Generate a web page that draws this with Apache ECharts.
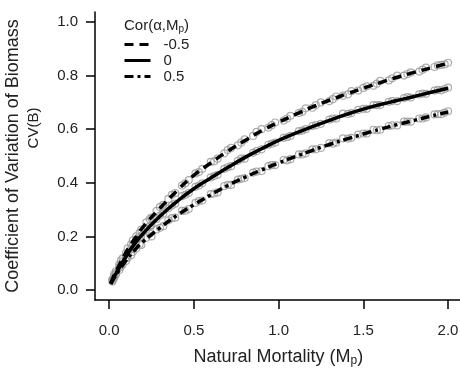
<!DOCTYPE html>
<html>
<head>
<meta charset="utf-8">
<script src="https://cdn.jsdelivr.net/npm/echarts@6.0.0/dist/echarts.min.js"></script>
<style>
  html, body { margin: 0; padding: 0; background: #fff; }
  #chart { width: 460px; height: 371px; }
</style>
</head>
<body>
<div id="chart"></div>
<script>
// 坐标轴刻度
const xTicks = [0, 0.5, 1.0, 1.5, 2.0];
const yTicks = [0, 0.2, 0.4, 0.6, 0.8, 1.0];

// 图例名称 Cor(α,Mp)
const seriesNames = ["-0.5", "0", "0.5"];

// 拟合曲线的 x
const lineX = [0.01, 0.03, 0.05, 0.1, 0.15, 0.2, 0.3, 0.4, 0.5, 0.6, 0.7, 0.8, 0.9, 1.0,
  1.1, 1.2, 1.3, 1.4, 1.5, 1.6, 1.7, 1.8, 1.9, 2.0];

// 三条曲线的 y
const lineNeg = [0.025, 0.055, 0.08, 0.14, 0.19, 0.235, 0.305, 0.37, 0.428, 0.474, 0.518, 0.557,
  0.594, 0.626, 0.655, 0.683, 0.708, 0.731, 0.753, 0.774, 0.794, 0.812, 0.829, 0.846];
const lineZero = [0.025, 0.05, 0.072, 0.125, 0.172, 0.21, 0.275, 0.33, 0.378, 0.418, 0.457, 0.494,
  0.527, 0.558, 0.585, 0.61, 0.633, 0.655, 0.675, 0.692, 0.707, 0.722, 0.738, 0.753];
const linePos = [0.022, 0.045, 0.065, 0.11, 0.148, 0.18, 0.232, 0.278, 0.318, 0.355, 0.39, 0.42,
  0.448, 0.474, 0.498, 0.521, 0.543, 0.563, 0.582, 0.6, 0.617, 0.633, 0.649, 0.664];

// 模拟点 [x, y]
const pointsNeg = [[0.02,0.04],[0.04,0.07],[0.06,0.095],[0.08,0.118],[0.11,0.155],[0.13,0.17],[0.16,0.2],
  [0.19,0.225],[0.22,0.252],[0.25,0.27],[0.28,0.295],[0.32,0.318],[0.35,0.34],[0.39,0.362],[0.43,0.39],
  [0.47,0.41],[0.51,0.435],[0.55,0.452],[0.6,0.478],[0.64,0.49],[0.68,0.51],[0.72,0.53],[0.76,0.54],
  [0.8,0.562],[0.85,0.575],[0.9,0.6],[0.94,0.606],[0.98,0.625],[1.03,0.632],[1.07,0.65],[1.12,0.66],
  [1.16,0.678],[1.2,0.68],[1.25,0.7],[1.3,0.705],[1.34,0.722],[1.38,0.725],[1.43,0.742],[1.47,0.744],
  [1.52,0.76],[1.56,0.762],[1.6,0.78],[1.65,0.782],[1.7,0.8],[1.74,0.8],[1.78,0.812],[1.83,0.815],
  [1.87,0.83],[1.92,0.832],[1.96,0.84],[2.0,0.848],
  [0.03,0.058],[0.07,0.11],[0.1,0.138],[0.14,0.185],[0.18,0.212],[0.24,0.265],[0.3,0.31],[0.37,0.355],
  [0.45,0.398],[0.53,0.44],[0.62,0.48],[0.7,0.522],[0.78,0.55],[0.87,0.59],[0.96,0.615],[1.05,0.64],
  [1.14,0.665],[1.22,0.69],[1.32,0.712],[1.41,0.73],[1.5,0.754],[1.58,0.77],[1.67,0.79],[1.76,0.806],
  [1.85,0.822],[1.94,0.838],[1.98,0.842]];
const pointsZero = [[0.02,0.036],[0.04,0.063],[0.06,0.085],[0.08,0.105],[0.11,0.136],[0.13,0.152],[0.16,0.18],
  [0.19,0.2],[0.22,0.226],[0.25,0.242],[0.28,0.265],[0.32,0.285],[0.35,0.305],[0.39,0.322],[0.43,0.35],
  [0.47,0.362],[0.51,0.385],[0.55,0.398],[0.6,0.42],[0.64,0.43],[0.68,0.452],[0.72,0.462],[0.76,0.482],
  [0.8,0.49],[0.85,0.512],[0.9,0.525],[0.94,0.542],[0.98,0.55],[1.03,0.568],[1.07,0.575],[1.12,0.593],
  [1.16,0.6],[1.2,0.612],[1.25,0.62],[1.3,0.636],[1.34,0.64],[1.38,0.658],[1.43,0.66],[1.47,0.672],
  [1.52,0.676],[1.56,0.69],[1.6,0.69],[1.65,0.702],[1.7,0.705],[1.74,0.716],[1.78,0.718],[1.83,0.73],
  [1.87,0.732],[1.92,0.744],[1.96,0.745],[2.0,0.755],
  [0.03,0.05],[0.07,0.095],[0.1,0.122],[0.14,0.165],[0.18,0.195],[0.24,0.238],[0.3,0.278],[0.37,0.315],
  [0.45,0.355],[0.53,0.39],[0.62,0.425],[0.7,0.458],[0.78,0.49],[0.87,0.518],[0.96,0.546],[1.05,0.57],
  [1.14,0.595],[1.22,0.615],[1.32,0.64],[1.41,0.657],[1.5,0.676],[1.58,0.69],[1.67,0.705],[1.76,0.72],
  [1.85,0.733],[1.94,0.747],[1.98,0.75]];
const pointsPos = [[0.02,0.032],[0.04,0.058],[0.06,0.075],[0.08,0.095],[0.11,0.12],[0.13,0.13],[0.16,0.155],
  [0.19,0.168],[0.22,0.195],[0.25,0.2],[0.28,0.226],[0.32,0.238],[0.35,0.26],[0.39,0.27],[0.43,0.295],
  [0.47,0.302],[0.51,0.325],[0.55,0.334],[0.6,0.358],[0.64,0.364],[0.68,0.388],[0.72,0.392],[0.76,0.412],
  [0.8,0.418],[0.85,0.438],[0.9,0.444],[0.94,0.462],[0.98,0.466],[1.03,0.485],[1.07,0.488],[1.12,0.506],
  [1.16,0.51],[1.2,0.525],[1.25,0.53],[1.3,0.548],[1.34,0.55],[1.38,0.566],[1.43,0.568],[1.47,0.58],
  [1.52,0.584],[1.56,0.598],[1.6,0.598],[1.65,0.612],[1.7,0.614],[1.74,0.628],[1.78,0.628],[1.83,0.64],
  [1.87,0.644],[1.92,0.655],[1.96,0.656],[2.0,0.667],
  [0.03,0.045],[0.07,0.087],[0.1,0.108],[0.14,0.142],[0.18,0.17],[0.24,0.21],[0.3,0.232],[0.37,0.268],
  [0.45,0.296],[0.53,0.332],[0.62,0.36],[0.7,0.392],[0.78,0.415],[0.87,0.442],[0.96,0.466],[1.05,0.484],
  [1.14,0.506],[1.22,0.525],[1.32,0.546],[1.41,0.565],[1.5,0.584],[1.58,0.596],[1.67,0.614],[1.76,0.628],
  [1.85,0.64],[1.94,0.656],[1.98,0.662]];

const font = "'Liberation Sans', Arial, sans-serif";
const ink = "#222";

const toPairs = (ys) => lineX.map((x, i) => [x, ys[i]]);

const pointSeries = (data) => ({
  type: "scatter",
  data: data,
  symbol: "circle",
  symbolSize: 7,
  itemStyle: { color: "rgba(255,255,255,0)", borderColor: "#999", borderWidth: 1.2 },
  silent: true,
  z: 2,
});

const lineSeries = (name, ys, dash) => ({
  type: "line",
  name: name,
  data: toPairs(ys),
  showSymbol: false,
  symbol: "none",
  smooth: true,
  lineStyle: { color: "#000", width: 3.5, type: dash },
  itemStyle: { color: "#000" },
  z: 3,
});

const chart = echarts.init(document.getElementById("chart"));

const option = {
  animation: false,
  textStyle: { fontFamily: font },
  // 不让 v6 自动收缩网格
  grid: { left: 95, top: 12, width: 366.6, height: 288, outerBoundsMode: "none", containLabel: false },
  title: {
    left: 119,
    top: 12,
    text: "{a|Cor(α,M}{s|p}{a|)}",
    textStyle: {
      rich: {
        a: { fontSize: 15, color: ink, fontFamily: font, fontWeight: "normal", lineHeight: 18 },
        s: { fontSize: 10, color: ink, fontFamily: font, fontWeight: "normal", lineHeight: 18, padding: [7, 0, 0, 0] },
      },
    },
  },
  legend: {
    orient: "vertical",
    left: 118,
    top: 32,
    itemWidth: 26,
    itemHeight: 14,
    itemGap: 1,
    data: seriesNames,
    itemStyle: { opacity: 0 },
    lineStyle: { width: 3 },
    textStyle: { fontSize: 15, color: ink, fontFamily: font, padding: [0, 0, 0, 8] },
  },
  xAxis: {
    type: "value",
    min: -0.083,
    max: 2.08,
    splitLine: { show: false },
    axisLine: { onZero: false, lineStyle: { color: "#000", width: 1.5 } },
    axisTick: { length: 9, customValues: xTicks, lineStyle: { color: "#000", width: 1.5 } },
    axisLabel: {
      customValues: xTicks,
      margin: 23,
      fontSize: 15,
      color: ink,
      formatter: (v) => v.toFixed(1),
    },
    name: "{a|Natural Mortality (M}{s|p}{a|)}",
    nameLocation: "middle",
    nameGap: 46,
    nameTextStyle: {
      rich: {
        a: { fontSize: 18, color: ink, fontFamily: font, lineHeight: 22 },
        s: { fontSize: 12, color: ink, fontFamily: font, lineHeight: 22, padding: [8, 0, 0, 0] },
      },
    },
  },
  yAxis: {
    type: "value",
    min: -0.0373,
    max: 1.0373,
    splitLine: { show: false },
    axisLine: { onZero: false, lineStyle: { color: "#000", width: 1.5 } },
    axisTick: { length: 9, customValues: yTicks, lineStyle: { color: "#000", width: 1.5 } },
    axisLabel: {
      customValues: yTicks,
      margin: 17,
      fontSize: 15,
      color: ink,
      formatter: (v) => v.toFixed(1),
    },
    name: "Coefficient of Variation of Biomass",
    nameLocation: "middle",
    nameRotate: 90,
    nameGap: 73,
    nameTextStyle: { fontSize: 18, color: ink, fontFamily: font },
  },
  graphic: [
    {
      type: "text",
      x: 34,
      y: 128,
      rotation: Math.PI / 2,
      style: {
        text: "CV(B)",
        fontSize: 15,
        fontFamily: font,
        fill: ink,
        align: "center",
        verticalAlign: "middle",
      },
    },
  ],
  series: [
    pointSeries(pointsNeg),
    pointSeries(pointsZero),
    pointSeries(pointsPos),
    lineSeries(seriesNames[0], lineNeg, [9, 6]),
    lineSeries(seriesNames[1], lineZero, "solid"),
    lineSeries(seriesNames[2], linePos, [9, 4, 3, 4]),
  ],
};

chart.setOption(option);
</script>
</body>
</html>
